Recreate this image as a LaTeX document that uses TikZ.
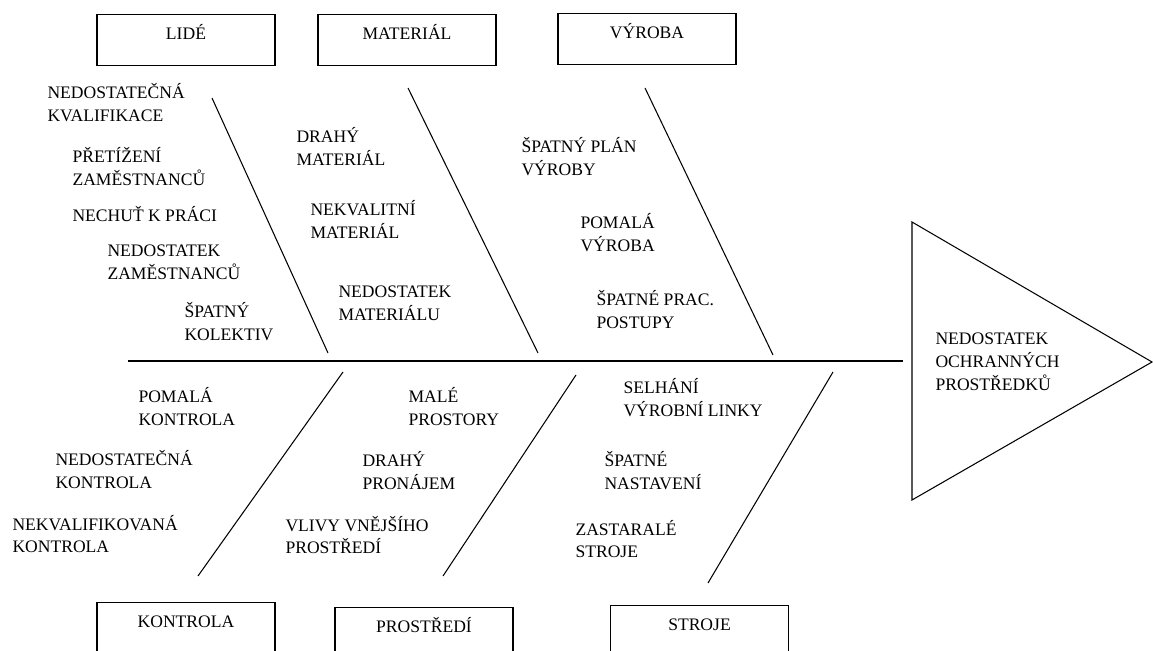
\documentclass[tikz,border=0pt]{standalone}
\usepackage{fontspec}
\setmainfont{Liberation Serif}
\usepackage{tikz}
\usetikzlibrary{positioning}
\newcommand{\causefont}{\fontsize{10pt}{13pt}\selectfont}

\begin{document}
\begin{tikzpicture}[x=0.02cm, y=-0.02cm, line width=0.6pt,
  catbox/.style={draw, anchor=north, minimum width=3.56cm, inner sep=0pt,
    text height=0.5cm, text depth=0.52cm, font=\causefont},
  cause1/.style={anchor=base west, align=left, inner sep=0pt, font=\causefont},
  cause/.style={cause1, yshift=-13pt}]
\clip (0,0) rectangle (1153,651);
% category boxes
\node[catbox] (lide) at (186,14) {LIDÉ};
\node[catbox] (material) at (407,14) {MATERIÁL};
\node[catbox] (vyroba) at (647,13) {VÝROBA};
\node[catbox] (kontrola) at (186,602) {KONTROLA};
\node[catbox] (prostredi) at (424,607) {PROSTŘEDÍ};
\node[catbox] (stroje) at (699.5,605) {STROJE};
% spine and head
\coordinate (s0) at (128,361);
\coordinate (s1) at (903,361);
\coordinate (h0) at (912,222);
\coordinate (h1) at (1152,362);
\coordinate (h2) at (912,500);
\draw (s0) -- (s1);
\draw (h0) -- (h1) -- (h2) -- cycle;
\node[cause1, yshift=-26pt] (effect) at (935,345) {NEDOSTATEK\\OCHRANNÝCH\\PROSTŘEDKŮ};
% bones
\coordinate (b1a) at (212,98);  \coordinate (b1b) at (328,353);
\coordinate (b2a) at (408,88);  \coordinate (b2b) at (538,353);
\coordinate (b3a) at (645,88);  \coordinate (b3b) at (773,355);
\coordinate (b4a) at (343,372); \coordinate (b4b) at (198,576);
\coordinate (b5a) at (576,375); \coordinate (b5b) at (443,576);
\coordinate (b6a) at (833,372); \coordinate (b6b) at (708,583);
\draw (b1a) -- (b1b);
\draw (b2a) -- (b2b);
\draw (b3a) -- (b3b);
\draw (b4a) -- (b4b);
\draw (b5a) -- (b5b);
\draw (b6a) -- (b6b);
% causes
\node[cause] (l1) at (47,99) {NEDOSTATEČNÁ\\KVALIFIKACE};
\node[cause] (l2) at (72,163) {PŘETÍŽENÍ\\ZAMĚSTNANCŮ};
\node[cause1] (l3) at (72,222) {NECHUŤ K PRÁCI};
\node[cause] (l4) at (107,257) {NEDOSTATEK\\ZAMĚSTNANCŮ};
\node[cause] (l5) at (184,318) {ŠPATNÝ\\KOLEKTIV};
\node[cause] (m1) at (296,143) {DRAHÝ\\MATERIÁL};
\node[cause] (m2) at (310,216) {NEKVALITNÍ\\MATERIÁL};
\node[cause] (m3) at (338,298) {NEDOSTATEK\\MATERIÁLU};
\node[cause] (v1) at (521,153) {ŠPATNÝ PLÁN\\VÝROBY};
\node[cause] (v2) at (580,229) {POMALÁ\\VÝROBA};
\node[cause] (v3) at (596,306) {ŠPATNÉ PRAC.\\POSTUPY};
\node[cause] (k1) at (138,403) {POMALÁ\\KONTROLA};
\node[cause] (k2) at (55,466) {NEDOSTATEČNÁ\\KONTROLA};
\node[cause] (k3) at (12,530) {NEKVALIFIKOVANÁ\\KONTROLA};
\node[cause] (p1) at (408,403) {MALÉ\\PROSTORY};
\node[cause] (p2) at (362,467) {DRAHÝ\\PRONÁJEM};
\node[cause] (p3) at (285,531) {VLIVY VNĚJŠÍHO\\PROSTŘEDÍ};
\node[cause] (t1) at (623,394) {SELHÁNÍ\\VÝROBNÍ LINKY};
\node[cause] (t2) at (604,467) {ŠPATNÉ\\NASTAVENÍ};
\node[cause] (t3) at (575,535) {ZASTARALÉ\\STROJE};
\end{tikzpicture}
\end{document}
